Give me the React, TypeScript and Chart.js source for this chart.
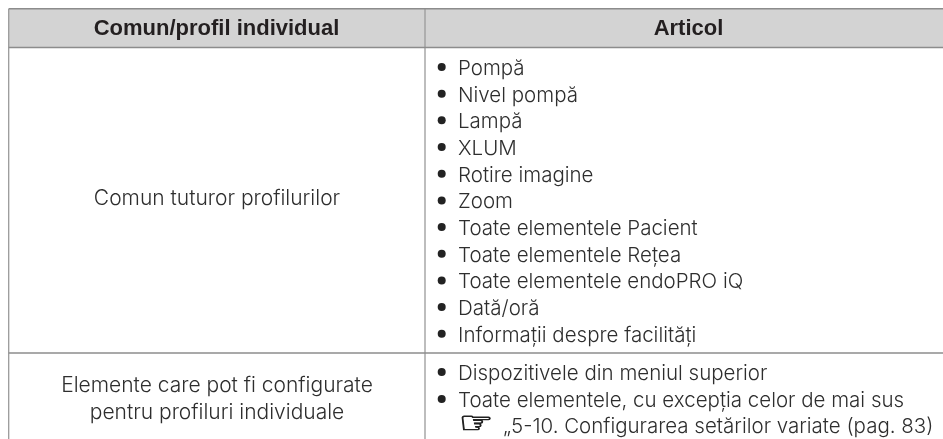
import React, { useEffect, useRef } from "react";
import { Chart, registerables } from "chart.js";

Chart.register(...registerables);

const headers = ["Comun/profil individual", "Articol"];
const commonLabel = ["Comun tuturor profilurilor"];
const customLabel = ["Elemente care pot fi configurate", "pentru profiluri individuale"];
const commonItems = [
  "Pompă",
  "Nivel pompă",
  "Lampă",
  "XLUM",
  "Rotire imagine",
  "Zoom",
  "Toate elementele Pacient",
  "Toate elementele Rețea",
  "Toate elementele endoPRO iQ",
  "Dată/oră",
  "Informații despre facilități",
];
const customItems = ["Dispozitivele din meniul superior", "Toate elementele, cu excepția celor de mai sus"];
const referenceMark = "☞";
const referenceText = "„5-10. Configurarea setărilor variate (pag. 83)";

// layout, in the pixel units of the two axes
const W = 943, H = 439;
const LEFT = 8.7, DIV = 425, TOP = 8.7, HEAD = 47.5, ROW = 353;
const colA = 217, colB = 688.5;
const textX = 458, bulletX = 441.7;
const commonBase = (i: number) => 75 + i * 26.68;
const customBase = [380, 407, 433];

const BODY = "300 20.5px Inter";
const SIDE = "300 21px Inter";
const BOLD = "bold 22px 'Liberation Sans'";
const INK = "#2e2e2e";
const RULE = "#8c8c8c";

const rule = (pts: number[][], color = RULE, w = 1.6) => ({
  type: "line" as const,
  data: pts.map(([x, y]) => ({ x, y })),
  borderColor: color,
  borderWidth: w,
  pointRadius: 0,
  fill: false,
  tension: 0,
  order: 2,
});

const tablePlugin = {
  id: "table",
  beforeDatasetsDraw(chart: any) {
    const { ctx, scales } = chart;
    const X = (v: number) => scales.x.getPixelForValue(v);
    const Y = (v: number) => scales.y.getPixelForValue(v);
    ctx.save();
    ctx.fillStyle = "#d3d3d3";
    ctx.fillRect(X(LEFT), Y(TOP), X(W) - X(LEFT), Y(HEAD) - Y(TOP));
    ctx.restore();
  },
  afterDatasetsDraw(chart: any) {
    const { ctx, scales } = chart;
    const X = (v: number) => scales.x.getPixelForValue(v);
    const Y = (v: number) => scales.y.getPixelForValue(v);
    ctx.save();
    ctx.textBaseline = "alphabetic";
    ctx.fillStyle = "#231f20";
    ctx.font = BOLD;
    ctx.textAlign = "center";
    ctx.fillText(headers[0], X(colA - 0.5), Y(35));
    ctx.fillText(headers[1], X(colB), Y(35));
    ctx.fillStyle = INK;
    ctx.font = SIDE;
    ctx.fillText(commonLabel[0], X(colA), Y(205));
    ctx.fillText(customLabel[0], X(colA), Y(392));
    ctx.fillText(customLabel[1], X(colA), Y(419));
    ctx.font = BODY;
    ctx.textAlign = "left";
    commonItems.forEach((t, i) => ctx.fillText(t, X(textX), Y(commonBase(i))));
    customItems.forEach((t, i) => ctx.fillText(t, X(textX), Y(customBase[i])));
    ctx.fillText(referenceText, X(503), Y(customBase[2]));
    ctx.translate(X(459), Y(customBase[2]));
    ctx.scale(1.3, 1);
    ctx.font = "30px 'DejaVu Sans'";
    ctx.strokeStyle = "#222222";
    ctx.lineWidth = 0.8;
    ctx.fillStyle = "#222222";
    ctx.strokeText(referenceMark, 0, 0);
    ctx.fillText(referenceMark, 0, 0);
    ctx.restore();
  },
};

export default function App() {
  const ref = useRef<HTMLCanvasElement>(null);
  useEffect(() => {
    document.body.style.margin = "0";
    document.body.style.background = "#fff";
    const bullets = [
      ...commonItems.map((_, i) => ({ x: bulletX, y: commonBase(i) - 8 })),
      ...customItems.map((_, i) => ({ x: bulletX, y: customBase[i] - 8 })),
    ];
    const chart = new Chart(ref.current!, {
      type: "scatter",
      data: {
        datasets: [
          rule([[LEFT, TOP], [W, TOP]]),
          rule([[LEFT, HEAD], [W, HEAD]]),
          rule([[LEFT, ROW], [W, ROW]]),
          rule([[LEFT, TOP], [LEFT, H]], "#9a9a9a", 1.3),
          rule([[DIV, TOP], [DIV, H]], "#9a9a9a", 1.3),
          {
            data: bullets,
            backgroundColor: "#222222",
            borderWidth: 0,
            pointRadius: 4,
            pointHoverRadius: 4,
            order: 1,
          },
        ] as any,
      },
      options: {
        animation: false,
        responsive: false,
        events: [],
        layout: { padding: 0, autoPadding: false },
        plugins: { legend: { display: false }, tooltip: { enabled: false }, title: { display: false } },
        scales: {
          x: { type: "linear", min: 0, max: W, display: false },
          y: { type: "linear", min: 0, max: H, reverse: true, display: false },
        },
      },
      plugins: [tablePlugin],
    });
    return () => chart.destroy();
  }, []);
  return (
    <div style={{ position: "absolute", left: 0, top: 0, width: W, height: H }}>
      <canvas ref={ref} width={W} height={H} style={{ display: "block" }} />
    </div>
  );
}
